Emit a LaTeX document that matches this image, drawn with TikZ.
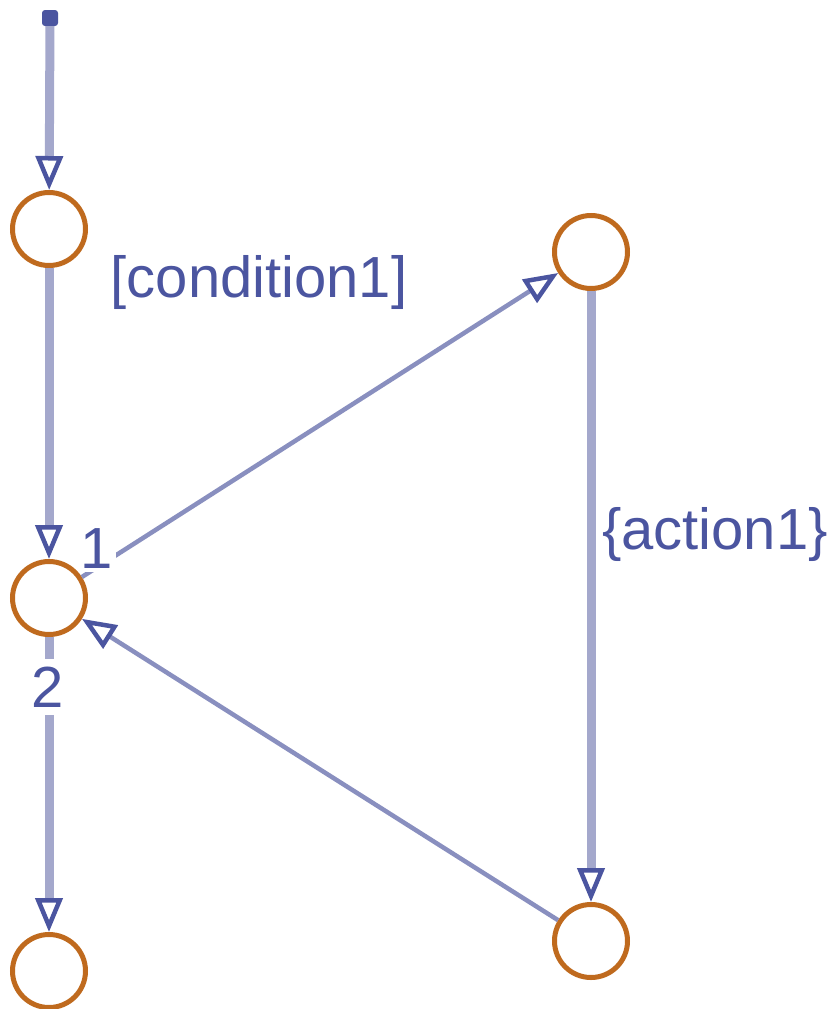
\documentclass[tikz,border=0pt]{standalone}
\usepackage{fontspec}
\setmainfont{Liberation Sans}
\usetikzlibrary{arrows.meta}
\definecolor{ink}{HTML}{4B55A0}
\definecolor{wire}{HTML}{A4A8CC}
\definecolor{ring}{HTML}{BF6A1E}
\begin{document}
\begin{tikzpicture}[x=1pt,y=-1pt,
  junction/.style={circle,draw=ring,line width=5pt,minimum size=73pt,inner sep=0pt},
  wirev/.style={draw=wire,line width=9pt},
  wired/.style={draw=wire!70!ink,line width=4.5pt},
  tip/.style={-{Triangle[open,color=ink,length=34pt,width=27pt,line width=4.5pt]}},
  lbl/.style={text=ink,inner sep=0pt,font=\fontsize{58}{60}\selectfont}]
\useasboundingbox (0,0) rectangle (835,1009);
\node[rectangle,rounded corners=3pt,fill=ink,inner sep=0pt,minimum size=16pt] (start) at (50,18) {};
\node[junction] (c1) at (49,229) {};
\node[junction] (c2) at (49,598) {};
\node[junction] (c3) at (49,971) {};
\node[junction] (tr) at (591,252) {};
\node[junction] (br) at (591,941) {};
\draw[wirev,tip] (start) -- (c1);
\draw[wirev,tip] (c1) -- (c2);
\draw[wired,tip] (c2) -- (tr);
\draw[wirev,tip] (tr) -- (br);
\draw[wired,tip] (br) -- (c2);
\draw[wirev,tip] (c2) -- (c3);
\node[lbl] (cond) at (259,283) {[condition1]};
\node[lbl] (act) at (715,534) {\{action1\}};
\node[lbl,fill=white,inner sep=3pt] (one) at (97,549) {1};
\node[lbl,fill=white,inner sep=8pt] (two) at (48,687) {2};
\end{tikzpicture}
\end{document}
